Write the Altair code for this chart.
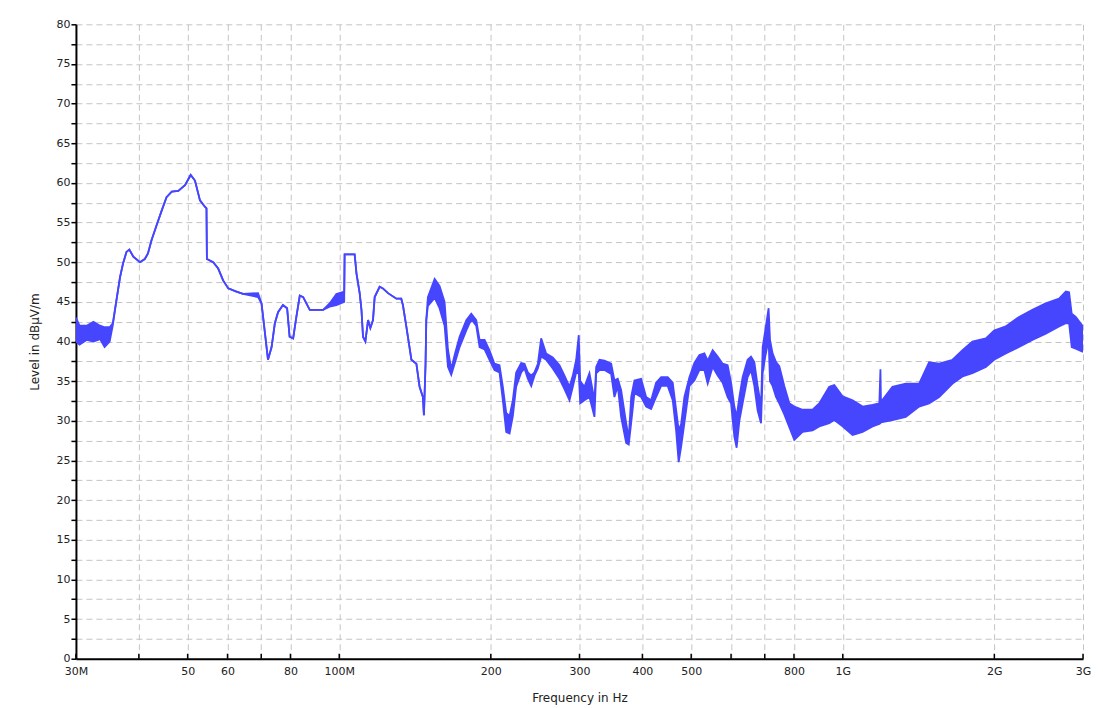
import altair as alt
import pandas as pd

# Frequency in MHz, lower / upper envelope of the measured trace in dBµV/m
freq_mhz = [30.0, 30.5, 31.5, 32.5, 33.5, 34.2, 35.0, 35.5, 36.1, 36.7, 37.2, 37.8, 38.3, 39.0,
            40.2, 41.1, 41.7, 42.4, 43.4, 44.4, 45.4, 46.5, 47.9, 49.4, 50.7, 51.7, 52.9, 54.1,
            54.5, 54.6, 56.2, 57.5, 58.8, 60.2, 62.5, 64.4, 69.0, 70.1, 71.1, 72.2, 73.4, 74.5,
            75.6, 77.3, 78.8, 79.7, 81.0, 82.2, 83.5, 84.8, 87.4, 92.9, 95.7, 98.7, 102.3, 102.5,
            107.3, 108.2, 109.8, 110.7, 111.5, 112.7, 114.1, 115.3, 116.7, 117.6, 120.3, 122.1,
            125.0, 129.9, 132.8, 133.8, 135.9, 139.1, 142.3, 144.4, 146.6, 147.3, 148.4, 148.9,
            150.0, 154.7, 158.2, 161.9, 164.4, 166.9, 169.5, 173.4, 178.8, 182.9, 187.1, 190.0,
            194.4, 198.8, 203.4, 208.1, 211.3, 214.6, 217.9, 221.2, 224.6, 229.8, 233.3, 236.9,
            240.6, 244.2, 248.0, 251.8, 257.6, 265.5, 273.8, 280.1, 286.6, 291.0, 295.5, 299.0,
            301.0, 306.9, 314.0, 321.3, 323.8, 328.7, 336.3, 346.8, 352.0, 357.4, 362.9, 371.4,
            375.8, 380.0, 385.7, 397.7, 406.9, 416.3, 425.9, 435.8, 449.1, 459.5, 466.7, 472.2,
            477.5, 484.7, 496.0, 507.4, 519.1, 531.1, 539.2, 551.6, 564.4, 577.4, 590.7, 600.0,
            609.1, 615.5, 623.2, 632.6, 647.2, 657.4, 667.4, 677.6, 688.2, 693.3, 701.6, 712.4,
            717.0, 725.5, 737.0, 748.1, 765.4, 783.1, 801.2, 832.2, 871.0, 898.0, 940.0, 962.0,
            999.0, 1046.0, 1095.0, 1146.0, 1182.0, 1188.0, 1191.0, 1255.0, 1334.0, 1418.0, 1484.0,
            1554.0, 1652.0, 1729.0, 1809.0, 1924.0, 1998.0, 2107.0, 2239.0, 2380.0, 2530.0,
            2689.0, 2773.0, 2815.0, 2849.0, 2902.0, 3000.0]

level_lo = [40.0, 39.6, 40.2, 40.0, 40.3, 39.3, 40.0, 42.0, 45.2, 48.1, 49.8, 51.3, 51.6, 50.7,
            50.0, 50.4, 51.1, 52.8, 54.7, 56.5, 58.2, 58.9, 59.0, 59.7, 61.0, 60.3, 57.8, 57.0,
            56.8, 50.4, 50.0, 49.2, 47.7, 46.7, 46.3, 46.0, 45.6, 44.8, 41.4, 37.7, 39.3, 42.3,
            43.7, 44.6, 44.2, 40.6, 40.4, 43.1, 45.8, 45.6, 44.0, 44.0, 44.4, 44.6, 45.0, 51.0,
            51.0, 48.6, 46.1, 44.0, 40.6, 40.0, 42.7, 41.7, 42.7, 45.6, 46.9, 46.7,
            46.1, 45.4, 45.4, 44.6, 41.9, 37.7, 37.2, 34.3, 33.0, 30.7, 37.2, 42.7,
            44.5, 45.5, 44.2, 42.0, 36.8, 35.8, 37.2, 39.3, 41.4, 42.8, 42.0, 39.3,
            39.0, 37.7, 36.4, 36.1, 32.6, 28.6, 28.4, 30.6, 34.3, 36.1, 36.6, 35.3,
            34.4, 35.7, 36.6, 38.1, 37.7, 36.6, 35.3, 34.0, 32.6, 34.3, 36.1, 36.0,
            32.2, 32.6, 33.0, 30.5, 36.0, 36.4, 36.4, 35.9, 33.0, 34.4, 30.5, 27.2,
            27.0, 29.7, 33.5, 33.0, 31.8, 31.5, 33.0, 34.4, 34.4, 32.6, 28.8, 24.8,
            26.7, 29.7, 34.4, 35.1, 36.4, 36.4, 34.7, 36.8, 35.7, 34.8, 33.0, 32.2,
            28.0, 26.6, 30.0, 32.2, 35.5, 36.4, 34.4, 31.3, 29.7, 36.0, 38.1, 40.2,
            35.0, 34.4, 33.0, 32.2, 30.8, 29.2, 27.6, 28.6, 28.8, 29.3, 29.7, 30.1,
            29.3, 28.2, 28.6, 29.3, 29.6, 29.7, 29.8, 30.1, 30.5, 31.8, 32.2,
            33.0, 34.7, 35.6, 36.0, 36.8, 37.7, 38.5, 39.3, 40.2, 41.0,
            41.9, 42.3, 42.3, 39.3, 39.1, 38.7]

level_hi = [43.0, 42.0, 42.0, 42.5, 42.0, 41.8, 41.8, 42.3, 45.2, 48.1, 49.8, 51.3, 51.6, 50.7,
            50.0, 50.4, 51.1, 52.8, 54.7, 56.5, 58.2, 58.9, 59.0, 59.7, 61.0, 60.3, 57.8, 57.0,
            56.8, 50.4, 50.0, 49.2, 47.7, 46.7, 46.3, 46.0, 46.1, 44.8, 41.4, 37.7, 39.3, 42.3,
            43.7, 44.6, 44.2, 40.6, 40.4, 43.1, 45.8, 45.6, 44.0, 44.0, 44.8, 46.0, 46.3, 51.0,
            51.0, 48.6, 46.1, 44.0, 40.6, 40.0, 42.7, 41.7, 42.7, 45.6, 46.9, 46.7,
            46.1, 45.4, 45.4, 44.6, 41.9, 37.7, 37.2, 34.3, 33.0, 30.7, 37.2, 42.7,
            45.6, 47.9, 47.0, 45.0, 39.0, 36.5, 38.3, 40.6, 42.7, 43.5, 42.7, 40.2,
            40.2, 38.9, 37.2, 37.0, 34.3, 31.0, 30.6, 32.6, 36.1, 37.3, 37.2, 36.1,
            35.7, 36.1, 37.2, 40.4, 38.5, 38.0, 37.0, 35.7, 34.3, 35.7, 37.7, 40.8,
            35.0, 34.3, 36.0, 32.6, 36.8, 37.7, 37.6, 37.2, 35.1, 35.3, 33.9, 29.7,
            27.8, 33.0, 35.1, 35.3, 33.0, 32.6, 34.8, 35.5, 35.5, 34.8, 31.4, 28.8,
            29.6, 33.0, 35.5, 37.3, 38.3, 38.5, 37.6, 38.9, 38.1, 37.2, 37.0, 34.8,
            31.8, 30.5, 33.0, 35.5, 37.7, 38.1, 37.4, 34.4, 31.8, 39.3, 41.4, 44.2,
            40.2, 38.5, 37.4, 36.9, 34.4, 32.2, 31.8, 31.4, 31.4, 32.2, 34.3, 34.5,
            33.1, 32.6, 31.8, 32.0, 32.2, 36.5, 32.4, 34.3, 34.7, 34.7, 37.4,
            37.2, 37.7, 38.9, 40.0, 40.4, 41.4, 41.9, 43.1, 44.0, 44.8,
            45.4, 46.3, 46.2, 43.5, 43.1, 41.9]

x_tick_values = [30, 40, 50, 60, 70, 80, 100, 200, 300, 400, 500, 600, 700, 800, 1000, 2000, 3000]
x_tick_labels = ["30M", "", "50", "60", "", "80", "100M", "200", "300", "400", "500", "", "", "800",
                 "1G", "2G", "3G"]
y_tick_values = [i * 2.5 for i in range(33)]

df = pd.DataFrame({"f": freq_mhz, "lo": level_lo, "hi": level_hi})
ticks_df = pd.DataFrame({"f": x_tick_values})

label_expr = "''"
for v, lab in zip(reversed(x_tick_values), reversed(x_tick_labels)):
    label_expr = f"datum.value == {v} ? '{lab}' : ({label_expr})"

W, H = 1008, 635
BLUE = "#4646ff"
FONT = "DejaVu Sans"

x_scale = alt.Scale(type="log", domain=[30, 3000], nice=False)
y_scale = alt.Scale(domain=[0, 80], nice=False)

x_axis = alt.Axis(values=x_tick_values, labelExpr=label_expr, title="Frequency in Hz",
                  ticks=False, labelPadding=7, titlePadding=16, grid=True,
                  gridDash=[6, 4], gridColor="#c4c4c4", gridWidth=1,
                  domainColor="#000000", domainWidth=2,
                  labelFont=FONT, labelFontSize=11, labelColor="#222222",
                  titleFont=FONT, titleFontSize=12, titleFontWeight="normal", titleColor="#222222",
                  labelOverlap=False, labelFlush=False)
y_axis = alt.Axis(values=y_tick_values, labelExpr="datum.value % 5 == 0 ? datum.value : ''",
                  title="Level in dBµV/m", tickSize=5, tickColor="#000000", tickWidth=1.5,
                  labelPadding=1, titlePadding=14, grid=True,
                  gridDash=[6, 4], gridColor="#c4c4c4", gridWidth=1,
                  domainColor="#000000", domainWidth=2,
                  labelFont=FONT, labelFontSize=11, labelColor="#222222",
                  titleFont=FONT, titleFontSize=12, titleFontWeight="normal", titleColor="#222222",
                  labelOverlap=False, labelFlush=False)

x_enc = alt.X("f:Q", scale=x_scale, axis=x_axis)

band = alt.Chart(df).mark_area(color=BLUE, opacity=1, clip=True).encode(
    x=x_enc,
    y=alt.Y("lo:Q", scale=y_scale, axis=y_axis),
    y2="hi:Q",
)
line_lo = alt.Chart(df).mark_line(color=BLUE, strokeWidth=1.8, clip=True).encode(
    x=x_enc, y=alt.Y("lo:Q", scale=y_scale, axis=y_axis)
)
line_hi = alt.Chart(df).mark_line(color=BLUE, strokeWidth=1.8, clip=True).encode(
    x=x_enc, y=alt.Y("hi:Q", scale=y_scale, axis=y_axis)
)
xticks = alt.Chart(ticks_df).mark_rule(color="#000000", strokeWidth=1.5).encode(
    x=x_enc, y=alt.value(H - 5), y2=alt.value(H)
)

chart = alt.layer(band, line_lo, line_hi, xticks).properties(
    width=W, height=H,
    autosize=alt.AutoSizeParams(type="none"),
    padding={"left": 68, "top": 16, "right": 12, "bottom": 48},
    background="white",
).configure_view(stroke=None)

chart.save("out.html", embed_options={"renderer": "svg", "actions": False})
